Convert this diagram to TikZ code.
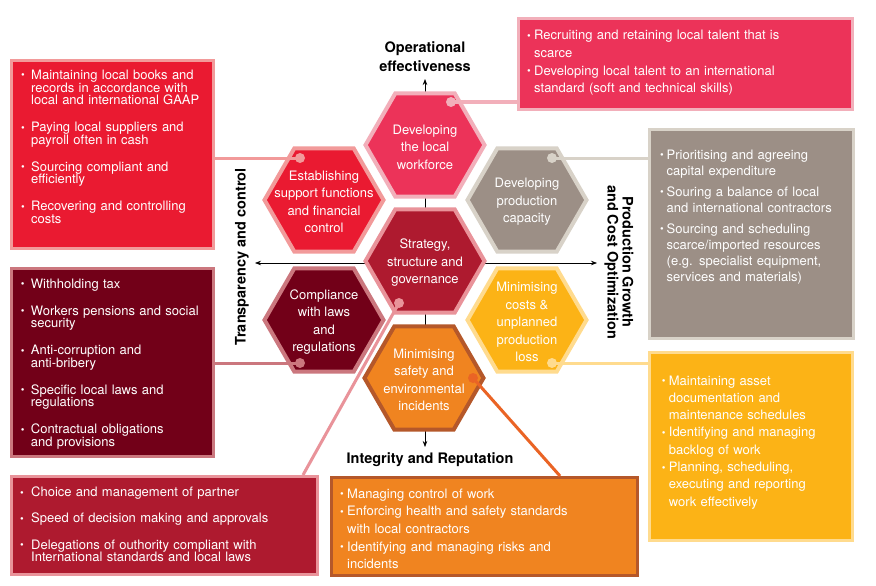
\documentclass[tikz,border=0pt]{standalone}
\usepackage{fontspec}
\setmainfont{TeX Gyre Heros}
\usetikzlibrary{shapes.geometric,positioning,calc,arrows.meta}

\definecolor{wfpink}{HTML}{EC3359}
\definecolor{wfpinklt}{HTML}{F2AFBA}
\definecolor{estred}{HTML}{EA1A31}
\definecolor{estredlt}{HTML}{F29A9A}
\definecolor{prodgrey}{HTML}{9C8F86}
\definecolor{prodgreylt}{HTML}{D8D2C8}
\definecolor{stratred}{HTML}{AE1A2F}
\definecolor{stratredlt}{HTML}{E9939A}
\definecolor{compmaroon}{HTML}{720018}
\definecolor{compmaroonlt}{HTML}{CB777E}
\definecolor{costyellow}{HTML}{FCB316}
\definecolor{costyellowlt}{HTML}{FFDB8E}
\definecolor{safeorange}{HTML}{F08420}
\definecolor{safeorangedk}{HTML}{B5582A}
\definecolor{safeline}{HTML}{EA6425}

\newlength\bulletw
\newlength\itemgap
\newcommand{\bitem}[1]{\hangindent=\bulletw\hangafter=1\makebox[\bulletw][l]{\raisebox{.4pt}{\fontsize{10.5}{10.5}\selectfont\textbullet}}#1\par\vspace{\itemgap}}

\tikzset{
  hexa/.style 2 args={regular polygon, regular polygon sides=6, minimum size=119pt, inner sep=0pt, line width=4pt, fill=#1, draw=#2},
  hexlabel/.style={align=center, text=white, inner sep=0pt, yshift=-2pt, font=\fontsize{13}{17.5}\selectfont},
  infobox/.style 2 args={rectangle, inner sep=0pt, line width=3pt, fill=#1, draw=#2, anchor=north west},
  infotext/.style={text width=#1, align=left, text=white, inner sep=0pt, anchor=base west},
  bulletlist/.style n args={3}{font=\fontsize{13}{#1}\selectfont\setlength\bulletw{#2}\setlength\itemgap{#3}},
  hexdot/.style={circle, inner sep=0pt, minimum size=10pt, fill=#1},
  dotlink/.style={line width=3pt, draw=#1},
  axisline/.style={{Stealth[length=6pt,width=4.5pt]}-{Stealth[length=6pt,width=4.5pt]}, line width=0.7pt},
  axislabel/.style={align=center, inner sep=0pt, font=\fontsize{14.5}{19}\selectfont\bfseries}
}

\begin{document}
\begin{tikzpicture}[x=1pt,y=-1pt]
  \path[fill=white,use as bounding box] (0,0) rectangle (876,586);

  \coordinate (ax-n) at (425,79);
  \coordinate (ax-s) at (425,447);
  \coordinate (ax-w) at (255,263);
  \coordinate (ax-e) at (597,263);
  \draw[axisline] (ax-s) -- (ax-n);
  \draw[axisline] (ax-w) -- (ax-e);

  \node[axislabel, above=7pt of ax-n] (opeff) {Operational\\effectiveness};
  \node[axislabel, below=5pt of ax-s, xshift=5pt] (integ) {Integrity and Reputation};
  \node[axislabel, rotate=90] (transp) at (242,257) {Transparency and control};
  \node[axislabel, rotate=-90, font=\fontsize{14.5}{15}\selectfont\bfseries] (prodgrowth) at (619,262) {Production Growth\\and Cost Optimization};

  \node[hexa={wfpink}{wfpinklt}] (wf) at (425,145) {};
  \node[hexa={estred}{estredlt}] (est) at (324,200) {};
  \node[hexa={prodgrey}{prodgreylt}] (prod) at (527,200) {};
  \node[hexa={stratred}{stratredlt}] (strat) at (425,261) {};
  \node[hexa={compmaroon}{compmaroonlt}] (comp) at (324,320) {};
  \node[hexa={costyellow}{costyellowlt}] (cost) at (527,320) {};
  \node[hexa={safeorange}{safeorangedk}] (safe) at (424,378) {};

  \node[hexlabel] (wf-t) at (wf) {Developing\\the local\\workforce};
  \node[hexlabel] (est-t) at (est) {Establishing\\support functions\\and financial\\control};
  \node[hexlabel] (prod-t) at (prod) {Developing\\production\\capacity};
  \node[hexlabel] (strat-t) at (strat) {Strategy,\\structure and\\governance};
  \node[hexlabel] (comp-t) at (comp) {Compliance\\with laws\\and\\regulations};
  \node[hexlabel] (cost-t) at (cost) {Minimising\\costs \&\\unplanned\\production\\loss};
  \node[hexlabel] (safe-t) at (safe) {Minimising\\safety and\\environmental\\incidents};

  \node[infobox={wfpink}{wfpinklt}, minimum width=334pt, minimum height=91pt] (talent) at (517,17) {};
  \node[infobox={estred}{estredlt}, minimum width=202pt, minimum height=188pt] (books) at (10,59) {};
  \node[infobox={prodgrey}{prodgreylt}, minimum width=204pt, minimum height=209pt] (capex) at (648,128) {};
  \node[infobox={compmaroon}{compmaroonlt}, minimum width=202pt, minimum height=188pt] (tax) at (10,267) {};
  \node[infobox={costyellow}{costyellowlt}, minimum width=203pt, minimum height=188pt] (assets) at (648,351) {};
  \node[infobox={stratred}{stratredlt}, minimum width=306pt, minimum height=98pt] (partner) at (10,475) {};
  \node[infobox={safeorange}{safeorangedk}, minimum width=306pt, minimum height=98pt] (hse) at (330,476) {};

  \node[infotext=310pt, bulletlist={17.6pt}{7pt}{0pt}] (talent-t) at ($(talent.north west)+(10,23)$) {%
    \bitem{Recruiting and retaining local talent that is\newline scarce}
    \bitem{Developing local talent to an international\newline standard (soft and technical skills)}};
  \node[infotext=195pt, bulletlist={12.8pt}{10pt}{13.9pt}] (books-t) at ($(books.north west)+(11,20.3)$) {%
    \bitem{Maintaining local books and\newline records in accordance with\newline local and international GAAP}
    \bitem{Paying local suppliers and\newline payroll often in cash}
    \bitem{Sourcing compliant and\newline efficiently}
    \bitem{Recovering and controlling\newline costs}};
  \node[infotext=192pt, bulletlist={16pt}{6.5pt}{5pt}] (capex-t) at ($(capex.north west)+(12,31.3)$) {%
    \bitem{Prioritising and agreeing\newline capital expenditure}
    \bitem{Souring a balance of local\newline and international contractors}
    \bitem{Sourcing and scheduling\newline scarce/imported resources\newline (e.g. specialist equipment,\newline services and materials)}};
  \node[infotext=195pt, bulletlist={12.8pt}{10pt}{13.9pt}] (tax-t) at ($(tax.north west)+(10.7,21.3)$) {%
    \bitem{Withholding tax}
    \bitem{Workers pensions and social\newline security}
    \bitem{Anti-corruption and\newline anti-bribery}
    \bitem{Specific local laws and\newline regulations}
    \bitem{Contractual obligations\newline and provisions}};
  \node[infotext=185pt, bulletlist={17.3pt}{7pt}{0pt}] (assets-t) at ($(assets.north west)+(13.7,34)$) {%
    \bitem{Maintaining asset\newline documentation and\newline maintenance schedules}
    \bitem{Identifying and managing\newline backlog of work}
    \bitem{Planning, scheduling,\newline executing and reporting\newline work effectively}};
  \node[infotext=290pt, bulletlist={12.8pt}{11pt}{13.4pt}] (partner-t) at ($(partner.north west)+(10,21.7)$) {%
    \bitem{Choice and management of partner}
    \bitem{Speed of decision making and approvals}
    \bitem{Delegations of outhority compliant with\newline International standards and local laws}};
  \node[infotext=290pt, bulletlist={17.6pt}{7pt}{0pt}] (hse-t) at ($(hse.north west)+(10,22.3)$) {%
    \bitem{Managing control of work}
    \bitem{Enforcing health and safety standards\newline with local contractors}
    \bitem{Identifying and managing risks and\newline incidents}};

  \node[hexdot=wfpinklt] (wf-d) at ($(wf)+(26,-43)$) {};
  \node[hexdot=estredlt] (est-d) at ($(est)+(-24,-42)$) {};
  \node[hexdot=prodgreylt] (prod-d) at ($(prod)+(25,-42)$) {};
  \node[hexdot=stratredlt] (strat-d) at ($(strat)+(-26,42)$) {};
  \node[hexdot=compmaroonlt] (comp-d) at ($(comp)+(-24,43)$) {};
  \node[hexdot=costyellowlt] (cost-d) at ($(cost)+(25,43)$) {};
  \node[hexdot=safeline] (safe-d) at ($(safe)+(49,0)$) {};

  \draw[dotlink=wfpinklt] (wf-d.center) -- (talent.west |- wf-d);
  \draw[dotlink=estredlt] (est-d.center) -- (books.east |- est-d);
  \draw[dotlink=prodgreylt] (prod-d.center) -- (capex.west |- prod-d);
  \draw[dotlink=compmaroonlt] (comp-d.center) -- (tax.east |- comp-d);
  \draw[dotlink=costyellowlt] (cost-d.center) -- (assets.west |- cost-d);
  \draw[dotlink=stratredlt] (strat-d.center) -- ($(partner.north east)+(-16,0)$);
  \draw[dotlink=safeline] (safe-d.center) -- ($(hse.north west)+(230,0)$);
\end{tikzpicture}
\end{document}
